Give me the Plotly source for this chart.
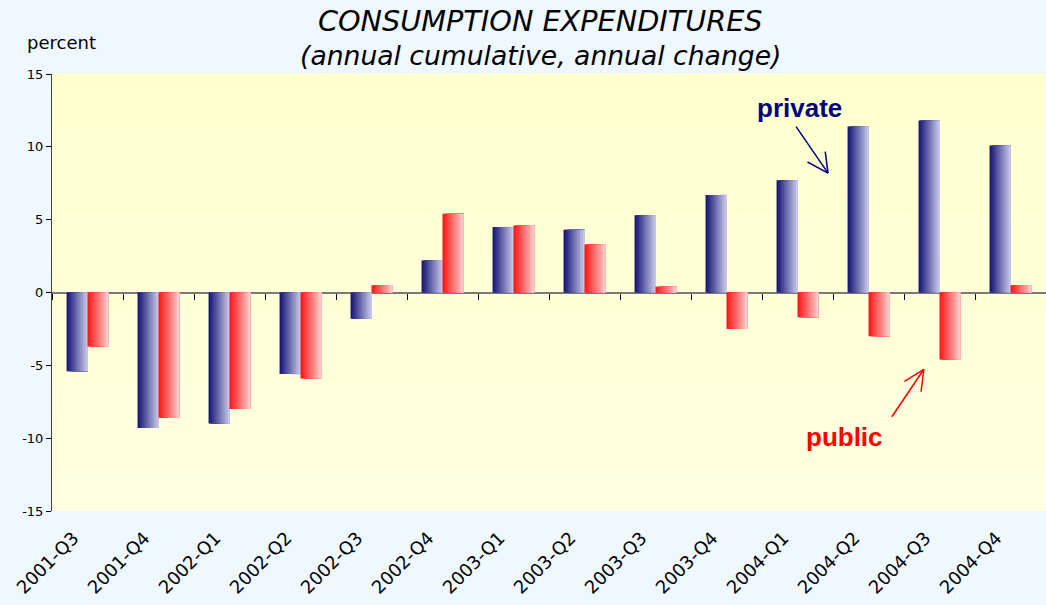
import plotly.graph_objects as go

categories = ["2001-Q3", "2001-Q4", "2002-Q1", "2002-Q2", "2002-Q3", "2002-Q4", "2003-Q1",
              "2003-Q2", "2003-Q3", "2003-Q4", "2004-Q1", "2004-Q2", "2004-Q3", "2004-Q4"]
private = [-5.4, -9.3, -9.0, -5.6, -1.8, 2.2, 4.5, 4.3, 5.3, 6.7, 7.7, 11.4, 11.8, 10.1]
public = [-3.7, -8.6, -8.0, -5.9, 0.5, 5.4, 4.6, 3.3, 0.4, -2.5, -1.7, -3.0, -4.6, 0.5]
y_ticks = [-15, -10, -5, 0, 5, 10, 15]
y_tick_labels = [str(v) for v in y_ticks]

BAR_W = 0.295
N = 14


def lerp(c0, c1, t):
    return "rgb(%d,%d,%d)" % tuple(round(a + (b - a) * t) for a, b in zip(c0, c1))


fig = go.Figure()

series = [
    (private, -BAR_W, (24, 24, 120), (196, 196, 230)),
    (public, 0.0, (255, 24, 24), (255, 200, 200)),
]
for vals, base, c0, c1 in series:
    step = BAR_W / N
    for k in range(N):
        fig.add_trace(go.Bar(
            x=categories, y=vals,
            offset=base + k * step, width=BAR_W - k * step,
            marker=dict(color=lerp(c0, c1, k / (N - 1)), line=dict(width=0)),
            showlegend=False, hoverinfo="skip",
        ))

# helper trace so the overlaid tick axis is drawn
fig.add_trace(go.Scatter(x=categories, y=private, xaxis="x2", mode="none",
                         showlegend=False, hoverinfo="skip"))

# plot background vertical gradient bands
NB = 24
for i in range(NB):
    fig.add_shape(type="rect", xref="paper", yref="paper", x0=0, x1=1,
                  y0=i / NB, y1=(i + 1) / NB, layer="below", line=dict(width=0),
                  fillcolor=lerp((255, 255, 226), (255, 255, 206), i / (NB - 1)))

fig.update_layout(
    width=1046, height=605,
    margin=dict(l=52, r=0, t=74, b=94),
    paper_bgcolor="#f0f8ff", plot_bgcolor="#ffffd8",
    barmode="overlay",
    font=dict(family="DejaVu Sans", color="#000000"),
    xaxis=dict(type="category", categoryarray=categories, range=[-0.5, 13.5],
               showgrid=False, showline=False, zeroline=False, ticks="",
               tickangle=-45, tickfont=dict(size=18, family="DejaVu Sans"),
               ticklabelstandoff=12, ticklabelshift=-14),
    xaxis2=dict(type="category", categoryarray=categories, range=[-0.5, 13.5],
                overlaying="x", anchor="free", position=0.5, side="bottom",
                tickson="boundaries", ticks="outside", ticklen=6, tickwidth=1,
                tickcolor="#000000", showticklabels=False, showgrid=False,
                showline=False, zeroline=False),
    yaxis=dict(range=[-15, 15], tickvals=y_ticks, ticktext=y_tick_labels,
               ticks="outside", ticklen=5,
               tickcolor="#000000", showline=True, linecolor="#404040", linewidth=1,
               showgrid=False, zeroline=True, zerolinecolor="#7a7a7a", zerolinewidth=2,
               tickfont=dict(size=13, family="DejaVu Sans")),
)

TX = (540 - 52) / 994
fig.add_annotation(text="CONSUMPTION EXPENDITURES", xref="paper", yref="paper",
                   x=TX, y=(510.7 - 21) / 436.7, yanchor="middle", showarrow=False,
                   font=dict(size=28.7, family="DejaVu Sans", style="italic"))
fig.add_annotation(text="(annual cumulative, annual change)", xref="paper", yref="paper",
                   x=TX, y=(510.7 - 56) / 436.7, yanchor="middle", showarrow=False,
                   font=dict(size=26.6, family="DejaVu Sans", style="italic"))
fig.add_annotation(text="percent", xref="paper", yref="paper", x=(25 - 52) / 994,
                   y=(510.7 - 43) / 436.7, xanchor="left", yanchor="middle", showarrow=False,
                   font=dict(size=18, family="DejaVu Sans"))

NAVY = "#000080"
RED = "#ff0000"
fig.add_annotation(text="<b>private</b>", x=10.035, y=12.66, showarrow=False,
                   font=dict(size=26, family="Liberation Sans", color=NAVY))
fig.add_annotation(text="<b>public</b>", x=10.66, y=-9.94, showarrow=False,
                   font=dict(size=26, family="Liberation Sans", color=RED))

# open "V" arrows: shaft plus two arms from the tip
arrows = [
    (10.43, 8.19, NAVY, [(-33, -48), (-22, -12), (-3, -23)]),
    (11.78, -5.27, RED, [(-33, 49), (-21, 13), (-3, 24)]),
]
for tx, ty, col, segs in arrows:
    for ax, ay in segs:
        fig.add_annotation(text="", x=tx, y=ty, ax=ax, ay=ay, showarrow=True,
                           arrowhead=0, arrowwidth=1.5, arrowcolor=col, standoff=0,
                           startstandoff=0)

fig.write_html("out.html", config={"displayModeBar": False},
               post_script="document.body.style.margin='0px';"
                           "document.body.style.background='#f0f8ff';")
